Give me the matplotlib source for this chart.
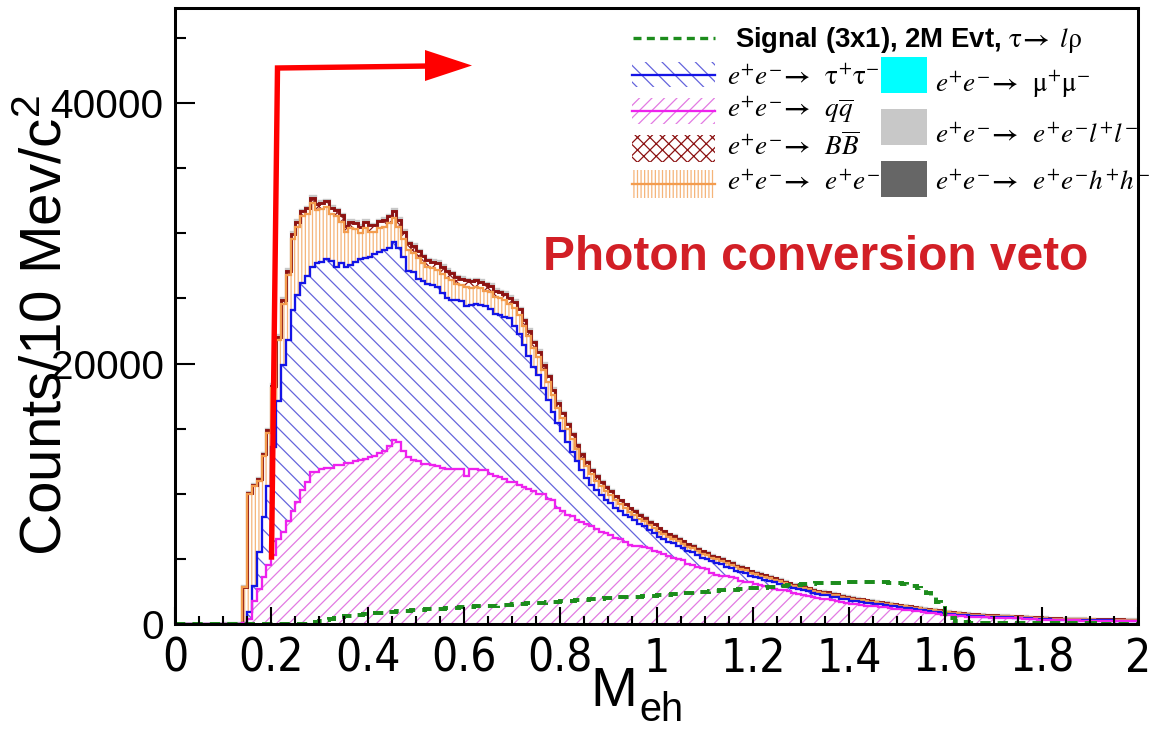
import matplotlib
matplotlib.use('Agg')
import matplotlib.pyplot as plt
import numpy as np
from matplotlib import font_manager as fm
from matplotlib.patches import Rectangle, Polygon
from matplotlib.lines import Line2D
from matplotlib.ticker import MultipleLocator, FuncFormatter

plt.rcParams['hatch.linewidth'] = 0.6
plt.rcParams['mathtext.fontset'] = 'stix'

W, H, DPI = 1150, 733, 150

# 10 MeV bins from 0 to 2 GeV, values in thousands of counts
bin_width = 0.01
qq_k = [
    0, 0, 0, 0, 0, 0, 0, 0, 0, 0,
    0, 0, 0, 0, 0.05, 0.4, 1.8, 2.7, 3.6, 4.5,
    5.3, 6.5, 7.1, 7.9, 8.7, 9.4, 10.3, 10.9, 11.7, 11.7,
    11.9, 12.0, 12.0, 12.2, 12.2, 12.4, 12.4, 12.5, 12.6, 12.7,
    12.8, 12.9, 13.1, 13.3, 13.7, 14.1, 14.0, 13.3, 12.8, 12.6,
    12.5, 12.3, 12.3, 12.2, 12.1, 12.0, 11.9, 11.9, 11.9, 11.9,
    11.4, 11.9, 11.9, 11.8, 11.8, 11.5, 11.4, 11.3, 11.1, 10.9,
    10.9, 10.7, 10.5, 10.4, 10.2, 10.0, 10.0, 9.6, 9.5, 8.9,
    8.7, 8.4, 8.3, 8.0, 7.8, 7.7, 7.5, 7.3, 7.1, 7.0,
    6.8, 6.6, 6.5, 6.3, 6.1, 6.0, 6.0, 5.9, 5.8, 5.6,
    5.5, 5.4, 5.2, 5.1, 5.0, 4.9, 4.6, 4.5, 4.4, 4.3,
    4.2, 3.9, 3.8, 3.7, 3.7, 3.6, 3.5, 3.3, 3.2, 3.2,
    3.1, 3.0, 2.9, 2.8, 2.7, 2.6, 2.6, 2.5, 2.4, 2.3,
    2.2, 2.15, 2.1, 2.0, 1.95, 1.9, 1.85, 1.75, 1.7, 1.6,
    1.55, 1.5, 1.45, 1.4, 1.35, 1.35, 1.3, 1.28, 1.2, 1.15,
    1.12, 1.1, 1.05, 1.0, 0.98, 0.92, 0.88, 0.82, 0.78, 0.72,
    0.7, 0.66, 0.62, 0.6, 0.57, 0.55, 0.53, 0.52, 0.5, 0.48,
    0.47, 0.46, 0.45, 0.44, 0.44, 0.43, 0.4, 0.38, 0.36, 0.34,
    0.32, 0.3, 0.3, 0.29, 0.28, 0.28, 0.27, 0.27, 0.26, 0.26,
    0.25, 0.25, 0.24, 0.24, 0.23, 0.23, 0.22, 0.22, 0.21, 0.2,
]
tautau_k = [
    0, 0, 0, 0, 0, 0, 0, 0, 0, 0,
    0, 0, 0, 0, 0, 0.5, 1.1, 2.8, 4.6, 6.1,
    8.3, 10.6, 12.8, 13.9, 15.4, 15.9, 15.9, 15.8, 15.7, 16.0,
    15.9, 16.0, 15.9, 15.2, 15.5, 15.0, 15.2, 15.3, 15.4, 15.4,
    15.4, 15.5, 15.5, 15.4, 15.2, 15.2, 14.9, 14.9, 14.3, 14.4,
    14.0, 14.0, 13.8, 13.8, 13.8, 13.4, 13.1, 13.0, 13.0, 12.9,
    13.0, 12.6, 12.7, 12.7, 12.6, 12.7, 12.4, 12.4, 12.5, 12.6,
    12.0, 11.6, 10.9, 10.2, 9.5, 9.1, 8.1, 7.6, 6.8, 6.5,
    6.1, 5.6, 4.9, 4.5, 4.0, 3.5, 3.2, 3.0, 2.8, 2.5,
    2.5, 2.3, 2.2, 2.1, 2.1, 2.0, 1.7, 1.6, 1.4, 1.4,
    1.2, 1.1, 1.1, 1.1, 1.0, 0.9, 1.0, 1.0, 0.9, 0.8,
    0.8, 0.9, 0.9, 0.9, 0.7, 0.7, 0.6, 0.7, 0.7, 0.5,
    0.5, 0.5, 0.5, 0.5, 0.5, 0.5, 0.35, 0.35, 0.35, 0.4,
    0.4, 0.35, 0.3, 0.3, 0.3, 0.3, 0.25, 0.3, 0.25, 0.3,
    0.25, 0.25, 0.25, 0.25, 0.25, 0.2, 0.2, 0.17, 0.2, 0.2,
    0.18, 0.15, 0.15, 0.15, 0.12, 0.13, 0.12, 0.13, 0.12, 0.13,
    0.1, 0.1, 0.1, 0.09, 0.09, 0.08, 0.07, 0.06, 0.06, 0.07,
    0.06, 0.06, 0.06, 0.06, 0.05, 0.04, 0.05, 0.05, 0.05, 0.05,
    0.05, 0.05, 0.04, 0.04, 0.04, 0.03, 0.04, 0.03, 0.04, 0.03,
    0.04, 0.03, 0.04, 0.03, 0.04, 0.03, 0.04, 0.03, 0.04, 0.04,
]
ee_k = [
    0, 0, 0, 0, 0, 0, 0, 0, 0, 0,
    0, 0, 0, 0, 2.8, 9.1, 7.7, 5.5, 4.7, 4.1,
    4.5, 4.7, 4.7, 5.0, 5.5, 5.2, 5.1, 4.8, 4.9, 4.1,
    4.1, 4.0, 3.6, 3.9, 3.2, 2.7, 2.8, 2.5, 2.0, 2.3,
    1.9, 1.7, 1.8, 1.8, 1.9, 1.9, 1.6, 1.4, 1.6, 1.5,
    1.6, 1.4, 1.3, 1.3, 1.3, 1.5, 1.6, 1.5, 1.2, 1.2,
    1.5, 1.3, 1.3, 1.3, 1.2, 1.3, 1.3, 1.3, 1.3, 1.1,
    1.4, 1.4, 1.5, 1.5, 1.5, 1.4, 1.4, 1.4, 1.3, 1.2,
    1.0, 1.0, 1.0, 0.9, 0.9, 0.9, 0.8, 0.7, 0.7, 0.7,
    0.6, 0.6, 0.5, 0.5, 0.4, 0.4, 0.4, 0.4, 0.4, 0.4,
    0.4, 0.38, 0.36, 0.36, 0.35, 0.34, 0.33, 0.32, 0.3, 0.3,
    0.3, 0.28, 0.27, 0.27, 0.26, 0.25, 0.24, 0.24, 0.23, 0.22,
    0.22, 0.21, 0.2, 0.2, 0.19, 0.19, 0.18, 0.18, 0.17, 0.17,
    0.16, 0.16, 0.15, 0.15, 0.15, 0.14, 0.14, 0.14, 0.13, 0.13,
    0.13, 0.12, 0.12, 0.12, 0.12, 0.11, 0.11, 0.11, 0.11, 0.1,
    0.1, 0.1, 0.1, 0.1, 0.1, 0.1, 0.1, 0.1, 0.1, 0.1,
    0.1, 0.1, 0.1, 0.1, 0.09, 0.09, 0.09, 0.09, 0.09, 0.09,
    0.09, 0.09, 0.09, 0.08, 0.08, 0.08, 0.08, 0.08, 0.08, 0.08,
    0.08, 0.07, 0.07, 0.07, 0.07, 0.07, 0.07, 0.07, 0.07, 0.07,
    0.06, 0.06, 0.06, 0.06, 0.06, 0.06, 0.06, 0.06, 0.06, 0.06,
]
bb_k = [
    0, 0, 0, 0, 0, 0, 0, 0, 0, 0,
    0, 0, 0, 0, 0, 0.03, 0.07, 0.11, 0.14, 0.17,
    0.21, 0.25, 0.28, 0.31, 0.35, 0.38, 0.39, 0.42, 0.42, 0.42,
    0.45, 0.45, 0.46, 0.46, 0.48, 0.48, 0.49, 0.49, 0.49, 0.5,
    0.5, 0.5, 0.52, 0.52, 0.52, 0.53, 0.53, 0.53, 0.53, 0.53,
    0.53, 0.53, 0.53, 0.53, 0.53, 0.53, 0.52, 0.52, 0.52, 0.52,
    0.5, 0.5, 0.5, 0.49, 0.49, 0.49, 0.48, 0.48, 0.46, 0.46,
    0.45, 0.45, 0.43, 0.43, 0.42, 0.42, 0.41, 0.41, 0.39, 0.39,
    0.38, 0.38, 0.36, 0.36, 0.35, 0.35, 0.34, 0.34, 0.32, 0.32,
    0.31, 0.31, 0.29, 0.29, 0.28, 0.28, 0.27, 0.27, 0.25, 0.25,
    0.24, 0.24, 0.22, 0.22, 0.21, 0.21, 0.2, 0.2, 0.18, 0.18,
    0.17, 0.17, 0.17, 0.15, 0.15, 0.15, 0.14, 0.14, 0.14, 0.13,
    0.13, 0.13, 0.13, 0.11, 0.11, 0.11, 0.11, 0.1, 0.1, 0.1,
    0.1, 0.1, 0.08, 0.08, 0.08, 0.08, 0.08, 0.08, 0.07, 0.07,
    0.07, 0.07, 0.07, 0.07, 0.07, 0.06, 0.06, 0.06, 0.06, 0.06,
    0.06, 0.06, 0.06, 0.06, 0.06, 0.04, 0.04, 0.04, 0.04, 0.04,
    0.04, 0.04, 0.04, 0.04, 0.04, 0.04, 0.04, 0.04, 0.04, 0.04,
    0.04, 0.04, 0.04, 0.04, 0.04, 0.03, 0.03, 0.03, 0.03, 0.03,
    0.03, 0.03, 0.03, 0.03, 0.03, 0.03, 0.03, 0.03, 0.03, 0.03,
    0.03, 0.03, 0.03, 0.03, 0.03, 0.03, 0.03, 0.03, 0.03, 0.03,
]
# tiny contributions, one value per 0.1 range (ten bins each)
mumu_k_per_100mev = [0, 0.01, 0.02, 0.02, 0.02, 0.02, 0.02, 0.02, 0.015, 0.01,
                     0.01, 0.01, 0.01, 0.01, 0.005, 0.005, 0.005, 0.005, 0.005, 0.005]
eehh_k_per_100mev = [0, 0.02, 0.03, 0.03, 0.03, 0.03, 0.03, 0.025, 0.02, 0.015,
                     0.01, 0.01, 0.01, 0.01, 0.01, 0.005, 0.005, 0.005, 0.005, 0.005]
eell_k_per_100mev = [0, 0.04, 0.08, 0.08, 0.07, 0.07, 0.06, 0.05, 0.04, 0.03,
                     0.03, 0.02, 0.02, 0.02, 0.02, 0.02, 0.015, 0.015, 0.015, 0.015]
signal_k = [
    0, 0, 0, 0, 0, 0, 0, 0, 0, 0,
    0, 0, 0, 0, 0, 0, 0, 0, 0, 0,
    0, 0, 0, 0, 0, 0, 0, 0, 0.05, 0.15,
    0.25, 0.33, 0.4, 0.45, 0.52, 0.58, 0.61, 0.67, 0.7, 0.76,
    0.78, 0.83, 0.85, 0.87, 0.92, 0.93, 0.98, 1.0, 1.02, 1.06,
    1.07, 1.11, 1.12, 1.16, 1.17, 1.19, 1.23, 1.24, 1.25, 1.29,
    1.3, 1.31, 1.35, 1.36, 1.37, 1.41, 1.42, 1.43, 1.47, 1.48,
    1.5, 1.53, 1.54, 1.58, 1.6, 1.61, 1.65, 1.66, 1.7, 1.72,
    1.74, 1.78, 1.79, 1.82, 1.86, 1.87, 1.9, 1.91, 1.95, 1.97,
    1.99, 2.03, 2.04, 2.05, 2.09, 2.1, 2.11, 2.15, 2.16, 2.17,
    2.2, 2.24, 2.25, 2.29, 2.31, 2.36, 2.37, 2.41, 2.43, 2.48,
    2.49, 2.53, 2.54, 2.58, 2.59, 2.63, 2.64, 2.68, 2.69, 2.73,
    2.74, 2.79, 2.8, 2.85, 2.86, 2.91, 2.92, 2.97, 2.98, 3.02,
    3.04, 3.08, 3.08, 3.12, 3.12, 3.16, 3.15, 3.18, 3.17, 3.2,
    3.19, 3.22, 3.21, 3.23, 3.21, 3.23, 3.2, 3.21, 3.18, 3.17,
    3.14, 3.1, 3.0, 2.9, 2.78, 2.6, 2.38, 2.1, 1.7, 1.2,
    0.75, 0.45, 0.25, 0.15, 0.12, 0.1, 0.1, 0.09, 0.09, 0.08,
    0.08, 0.08, 0.07, 0.07, 0.07, 0.06, 0.06, 0.06, 0.06, 0.05,
    0.05, 0.05, 0.05, 0.05, 0.04, 0.04, 0.04, 0.04, 0.04, 0.04,
    0.04, 0.03, 0.03, 0.03, 0.03, 0.03, 0.03, 0.03, 0.03, 0.03,
]

edges = np.round(np.arange(len(qq_k) + 1) * bin_width, 2)
per_bin = lambda v: np.repeat(v, 10)
components = np.array([qq_k, tautau_k, ee_k, bb_k,
                       per_bin(eehh_k_per_100mev), per_bin(mumu_k_per_100mev),
                       per_bin(eell_k_per_100mev)]) * 1000
stack = np.cumsum(components, axis=0)
signal = np.array(signal_k) * 1000

# colours
MAG, MAG_H = '#ee22ee', '#e27ae2'
BLUE, BLUE_H = '#1414e6', '#6464dc'
ORA, ORA_H = '#f39c4e', '#f5b57a'
BBC = '#8c1212'
CYAN, LGREY, DGREY = '#00ffff', '#c8c8c8', '#666666'
GREEN = '#1c8c1c'

H_MAG, H_BLUE, H_ORA, H_BB = '////', '\\\\\\', '|||||||', 'xxxx'


def find_narrow():
    pref = None
    for f in fm.fontManager.ttflist:
        narrow = ('Narrow' in f.name or 'Condensed' in f.name or
                  f.stretch in ('condensed', 'semi-condensed'))
        if narrow and f.style == 'normal' and str(f.weight) in ('400', 'normal', 'regular'):
            if 'Liberation' in f.name:
                return f.fname
            pref = pref or f.fname
    return pref


fig = plt.figure(figsize=(W / DPI, H / DPI), dpi=DPI)
L, R, T, B = 175, 1138, 8, 624
ax = fig.add_axes([L / W, 1 - B / H, (R - L) / W, (B - T) / H])

hatches = [H_MAG, H_BLUE, H_ORA, H_BB]
hcols = [MAG_H, BLUE_H, ORA_H, BBC]
base = np.zeros(len(qq_k))
for i in range(4):
    ax.stairs(stack[i], edges, baseline=base, fill=True, facecolor='none',
              edgecolor=hcols[i], hatch=hatches[i], linewidth=0)
    base = stack[i]
for i, c in zip(range(4, 7), [DGREY, CYAN, LGREY]):
    ax.stairs(stack[i], edges, baseline=stack[i - 1], fill=True, color=c, linewidth=0)

ax.stairs(stack[6], edges, color=LGREY, linewidth=1.6)
ax.stairs(stack[3], edges, color=BBC, linewidth=1.4)
ax.stairs(stack[2], edges, color=ORA, linewidth=1.1)
ax.stairs(stack[1], edges, color=BLUE, linewidth=1.1)
ax.stairs(stack[0], edges, color=MAG, linewidth=1.1)
ax.stairs(signal, edges, color=GREEN, linewidth=1.9, linestyle=(0, (2.6, 1.8)))

ax.set_xlim(0, 2)
ax.set_ylim(0, 47300)
for s in ax.spines.values():
    s.set_linewidth(1.45)
ax.xaxis.set_major_locator(MultipleLocator(0.2))
ax.xaxis.set_minor_locator(MultipleLocator(0.05))
ax.yaxis.set_major_locator(MultipleLocator(20000))
ax.yaxis.set_minor_locator(MultipleLocator(5000))
ax.xaxis.set_major_formatter(FuncFormatter(lambda v, p: f'{v:g}'))
ax.yaxis.set_major_formatter(FuncFormatter(lambda v, p: f'{v:.0f}'))
ax.tick_params(which='both', direction='in', top=False, right=False, width=1.0)
ax.tick_params(axis='x', which='major', length=8.2, pad=6)
ax.tick_params(axis='x', which='minor', length=3.9)
ax.tick_params(axis='y', which='major', length=9.6, pad=5.5)
ax.tick_params(axis='y', which='minor', length=5.3)

narrow = find_narrow()
xfp = fm.FontProperties(fname=narrow, size=22) if narrow else fm.FontProperties(family='Liberation Sans', size=17)
for lbl in ax.get_xticklabels():
    lbl.set_fontproperties(xfp)
for lbl in ax.get_yticklabels():
    lbl.set_fontproperties(fm.FontProperties(family='Liberation Sans', size=19.5))


def fx(x):
    return x / W


def fy(y):
    return 1 - y / H


# axis titles (the y title overlaps the tick labels, as in the original)
fig.text(fx(47), fy(325), r'Counts/10 Mev/c$^{\mathregular{2}}$', rotation=90,
         ha='center', va='center', family='Liberation Sans', size=28)
fig.text(fx(637), fy(706), 'M', ha='right', va='baseline',
         family='Liberation Sans', size=27)
fig.text(fx(639), fy(721), 'eh', ha='left', va='baseline',
         family='Liberation Sans', size=19)

# legend
fig.add_artist(Line2D([fx(633), fx(715)], [fy(38), fy(38)], color=GREEN, lw=1.6,
                      linestyle=(0, (2.4, 1.6))))
fig.text(fx(735), fy(47), r'Signal (3x1), 2M Evt, $\mathrm{\tau}\!\mathbf{\rightarrow}\ l\mathrm{\rho}$',
         family='Liberation Sans', weight='bold', size=13.2, va='baseline')

arrow = r'\!\mathbf{\rightarrow}\;\; '
rows = [(62, 87, BLUE_H, BLUE, H_BLUE, r'$e^{+}e^{-}' + arrow + r'\mathrm{\tau^{+}\tau^{-}}$', 85),
        (98, 124, MAG_H, MAG, H_MAG, r'$e^{+}e^{-}' + arrow + r'q\overline{q}$', 117),
        (135, 162, BBC, None, H_BB, r'$e^{+}e^{-}' + arrow + r'B\overline{B}$', 155),
        (170, 198, ORA_H, ORA, H_ORA, r'$e^{+}e^{-}' + arrow + r'e^{+}e^{-}$', 190)]
for y0, y1, hc, lc, hp, label, base_y in rows:
    fig.add_artist(Rectangle((fx(632), fy(y1)), fx(715) - fx(632), fy(y0) - fy(y1),
                             facecolor='none', edgecolor=hc, hatch=hp, linewidth=0))
    if lc:
        ym = (y0 + y1) / 2
        fig.add_artist(Line2D([fx(632), fx(715)], [fy(ym), fy(ym)], color=lc, lw=1.1))
    fig.text(fx(727), fy(base_y), label, size=13, va='baseline')

boxes = [(57, 93, CYAN, r'$e^{+}e^{-}' + arrow + r'\mathrm{\mu^{+}\mu^{-}}$', 92),
         (109, 145, LGREY, r'$e^{+}e^{-}' + arrow + r'e^{+}e^{-}l^{+}l^{-}$', 143),
         (161, 197, DGREY, r'$e^{+}e^{-}' + arrow + r'e^{+}e^{-}h^{+}h^{-}$', 190)]
for y0, y1, c, label, base_y in boxes:
    fig.add_artist(Rectangle((fx(881), fy(y1)), fx(927) - fx(881), fy(y0) - fy(y1),
                             facecolor=c, edgecolor='none'))
    fig.text(fx(935), fy(base_y), label, size=13, va='baseline')

# photon conversion veto annotation
fig.add_artist(Line2D([fx(271.5), fx(277.5), fx(430)], [fy(557), fy(68), fy(66)],
                      color='red', lw=2.6, solid_joinstyle='miter'))
fig.add_artist(Polygon([(fx(425), fy(50)), (fx(472), fy(65.5)), (fx(425), fy(81))],
                       closed=True, color='red', linewidth=0))
fig.text(fx(543), fy(270), 'Photon conversion veto', color='#d21f26',
         family='Liberation Sans', weight='bold', size=23, va='baseline')

fig.savefig('out.png', dpi=DPI)
